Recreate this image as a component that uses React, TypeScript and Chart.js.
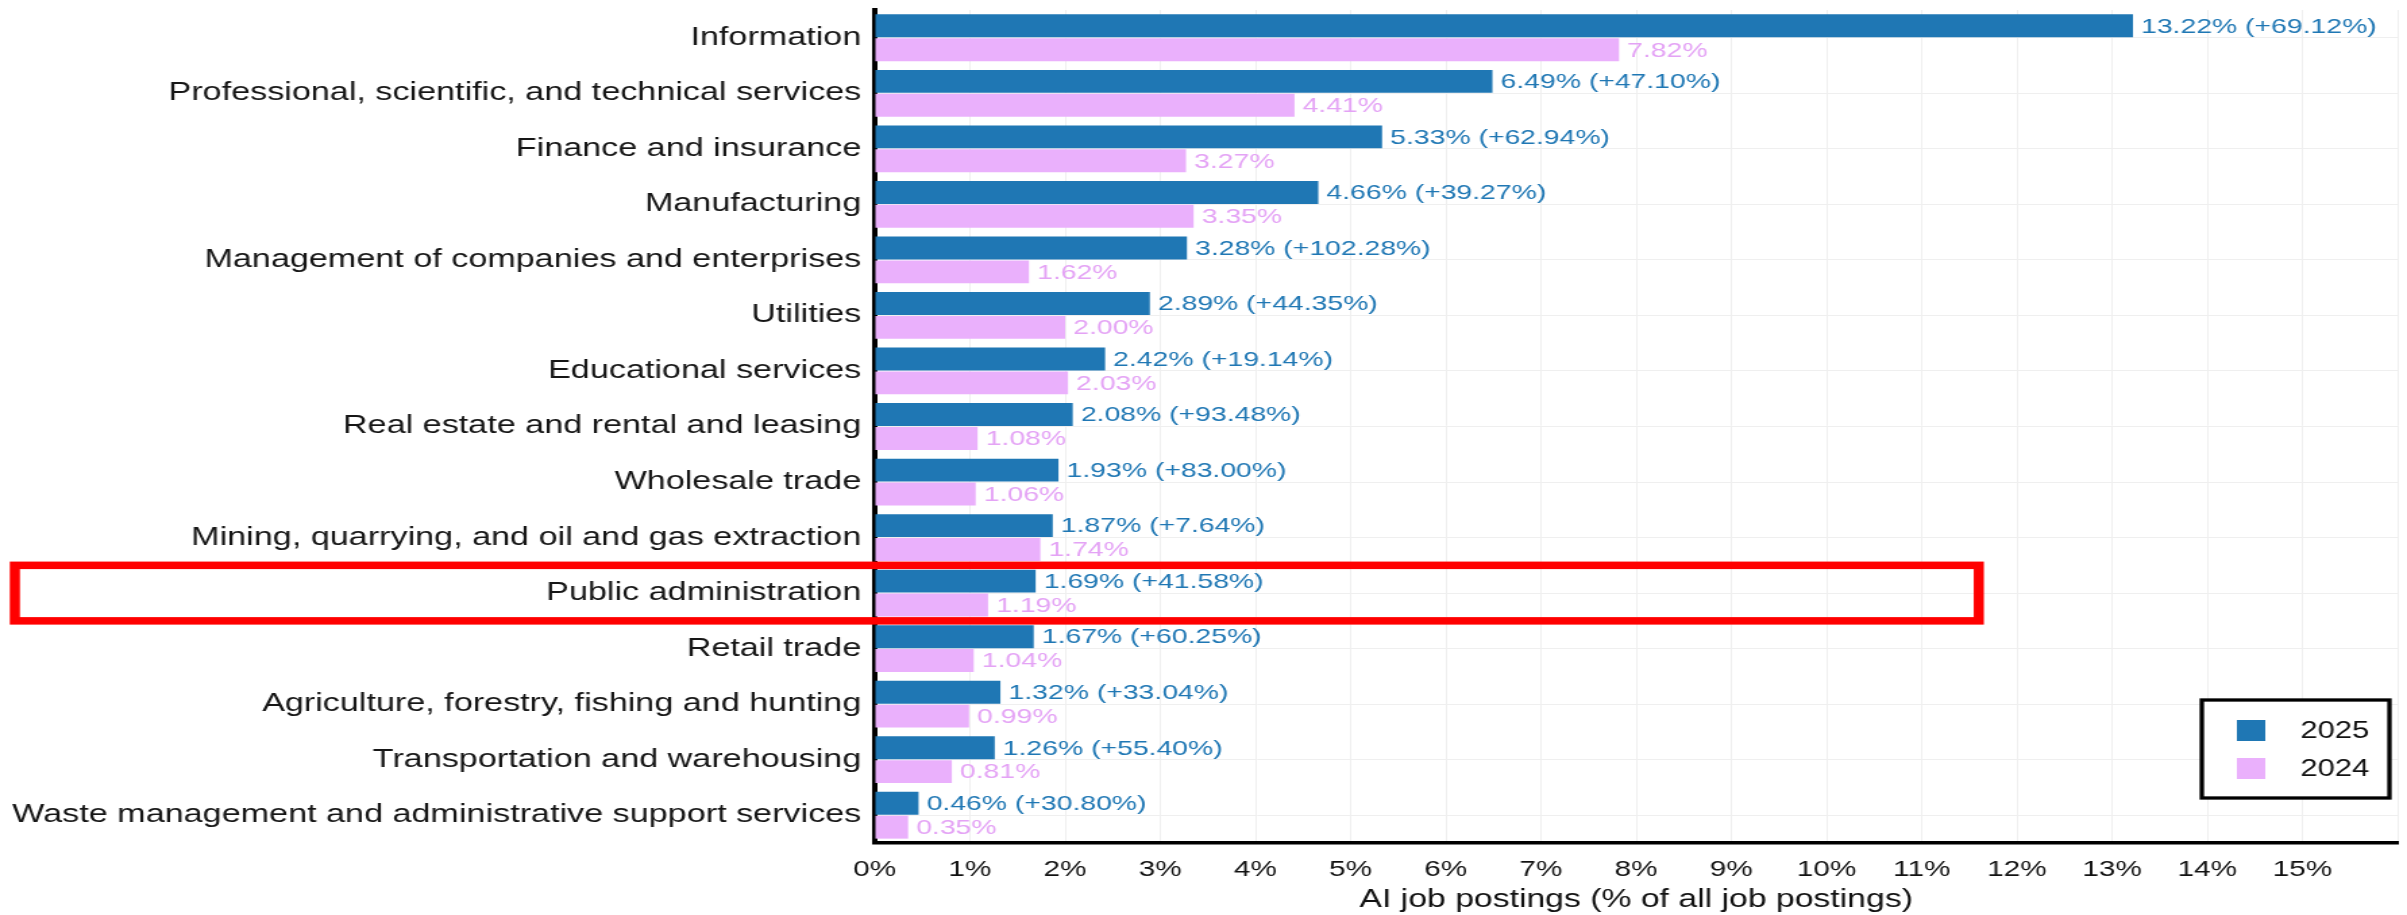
import React, { useEffect, useRef } from 'react';
import { Chart, registerables } from 'chart.js';

Chart.register(...registerables);

// ---------- data ----------
const categories = [
  'Information',
  'Professional, scientific, and technical services',
  'Finance and insurance',
  'Manufacturing',
  'Management of companies and enterprises',
  'Utilities',
  'Educational services',
  'Real estate and rental and leasing',
  'Wholesale trade',
  'Mining, quarrying, and oil and gas extraction',
  'Public administration',
  'Retail trade',
  'Agriculture, forestry, fishing and hunting',
  'Transportation and warehousing',
  'Waste management and administrative support services',
];
const values2025 = [13.22, 6.49, 5.33, 4.66, 3.28, 2.89, 2.42, 2.08, 1.93, 1.87, 1.69, 1.67, 1.32, 1.26, 0.46];
const values2024 = [7.82, 4.41, 3.27, 3.35, 1.62, 2.0, 2.03, 1.08, 1.06, 1.74, 1.19, 1.04, 0.99, 0.81, 0.35];
const changes = [69.12, 47.1, 62.94, 39.27, 102.28, 44.35, 19.14, 93.48, 83.0, 7.64, 41.58, 60.25, 33.04, 55.4, 30.8];
const seriesLabels = ['2025', '2024'];
const xAxisMax = 16;
const xTickLabelMax = 15;
const xAxisTitle = 'AI job postings (% of all job postings)';
const highlightCategory = 'Public administration';
const highlightRightValue = 11.6;

// ---------- style ----------
const BLUE = '#1f77b4';
const PINK = '#eab0fc';
const PINK_TEXT = '#e4a3f5';
const FONT = "'Liberation Sans', Arial, Helvetica, sans-serif";
const PAGE_W = 2407;
const PAGE_H = 915;
const STRETCH = 1.35;
const CW = Math.round(PAGE_W / STRETCH);
const CH = PAGE_H;

const dataLabelPlugin = {
  id: 'dataLabels',
  afterDatasetsDraw(chart: any) {
    const { ctx } = chart;
    ctx.save();
    ctx.font = `21px ${FONT}`;
    ctx.textBaseline = 'middle';
    ctx.textAlign = 'left';
    chart.data.datasets.forEach((ds: any, di: number) => {
      const meta = chart.getDatasetMeta(di);
      meta.data.forEach((bar: any, i: number) => {
        const v = ds.data[i];
        const text = di === 0 ? `${v.toFixed(2)}% (+${changes[i].toFixed(2)}%)` : `${v.toFixed(2)}%`;
        ctx.fillStyle = di === 0 ? BLUE : PINK_TEXT;
        ctx.fillText(text, bar.x + 6, bar.y + 1);
      });
    });
    ctx.restore();
  },
};

const highlightPlugin = {
  id: 'highlightBox',
  afterDraw(chart: any) {
    const { ctx } = chart;
    const yScale = chart.scales.y;
    const xScale = chart.scales.x;
    const idx = categories.indexOf(highlightCategory);
    const yc = yScale.getPixelForValue(idx);
    const half = (yScale.getPixelForValue(1) - yScale.getPixelForValue(0)) / 2;
    const x0 = 11;
    const x1 = xScale.getPixelForValue(highlightRightValue);
    ctx.save();
    ctx.strokeStyle = '#ff0000';
    ctx.lineWidth = 7.5;
    ctx.strokeRect(x0, yc - half, x1 - x0, 2 * half);
    ctx.restore();
  },
};

const boxLegendPlugin = {
  id: 'boxLegend',
  afterDraw(chart: any) {
    const { ctx, chartArea } = chart;
    const w = 139;
    const h = 98;
    const right = chartArea.right - 6;
    const bottom = chartArea.bottom - 45;
    const left = right - w;
    const top = bottom - h;
    ctx.save();
    ctx.fillStyle = '#ffffff';
    ctx.fillRect(left, top, w, h);
    ctx.strokeStyle = '#000000';
    ctx.lineWidth = 3.3;
    ctx.strokeRect(left, top, w, h);
    ctx.font = `23px ${FONT}`;
    ctx.textBaseline = 'middle';
    ctx.textAlign = 'left';
    chart.data.datasets.forEach((ds: any, i: number) => {
      const sy = top + 20 + i * 38;
      ctx.fillStyle = ds.backgroundColor;
      ctx.fillRect(left + 26, sy, 21, 21);
      ctx.fillStyle = '#111111';
      ctx.fillText(ds.label, left + 73, sy + 12);
    });
    ctx.restore();
  },
};

export default function App() {
  const canvasRef = useRef<HTMLCanvasElement | null>(null);

  useEffect(() => {
    const canvas = canvasRef.current;
    if (!canvas) return;
    Chart.defaults.font.family = FONT;
    const chart = new Chart(canvas, {
      type: 'bar',
      data: {
        labels: categories,
        datasets: [
          {
            label: seriesLabels[0],
            data: values2025,
            backgroundColor: BLUE,
            categoryPercentage: 0.86,
            barPercentage: 0.96,
          },
          {
            label: seriesLabels[1],
            data: values2024,
            backgroundColor: PINK,
            categoryPercentage: 0.86,
            barPercentage: 0.96,
          },
        ],
      },
      options: {
        indexAxis: 'y',
        animation: false,
        responsive: false,
        devicePixelRatio: 1,
        layout: { padding: { top: 10, right: 7, bottom: 0, left: 0 } },
        plugins: {
          legend: { display: false },
          tooltip: { enabled: false },
          title: { display: false },
        },
        scales: {
          x: {
            type: 'linear',
            min: 0,
            max: xAxisMax,
            afterFit(scale: any) {
              scale.height = 72;
              scale.paddingLeft = 0;
              scale.paddingRight = 0;
            },
            grid: { color: '#efefef', lineWidth: 1, drawTicks: false },
            border: { display: true, color: '#000000', width: 3.5 },
            ticks: {
              stepSize: 1,
              autoSkip: false,
              maxRotation: 0,
              padding: 14,
              color: '#111111',
              font: { size: 22, family: FONT },
              callback: (v: any) => (Number(v) <= xTickLabelMax ? `${v}%` : ''),
            },
            title: {
              display: true,
              text: xAxisTitle,
              color: '#111111',
              font: { size: 25, family: FONT, lineHeight: 1.2 },
              padding: { top: 0, bottom: 0 },
            },
          },
          y: {
            type: 'category',
            afterFit(scale: any) {
              scale.width = 648;
              scale.paddingTop = 0;
              scale.paddingBottom = 0;
            },
            grid: { color: '#efefef', lineWidth: 1, drawTicks: false, offset: false },
            border: { display: true, color: '#000000', width: 4 },
            ticks: {
              padding: 10,
              color: '#161616',
              autoSkip: false,
              font: { size: 25.3, family: FONT },
            },
          },
        },
      },
      plugins: [dataLabelPlugin, boxLegendPlugin, highlightPlugin],
    } as any);
    return () => {
      chart.destroy();
    };
  }, []);

  return (
    <div style={{ position: 'fixed', left: 0, top: 0, width: PAGE_W, height: PAGE_H, background: '#ffffff' }}>
      <canvas
        ref={canvasRef}
        width={CW}
        height={CH}
        style={{ width: `${PAGE_W}px`, height: `${PAGE_H}px`, display: 'block' }}
      />
    </div>
  );
}
